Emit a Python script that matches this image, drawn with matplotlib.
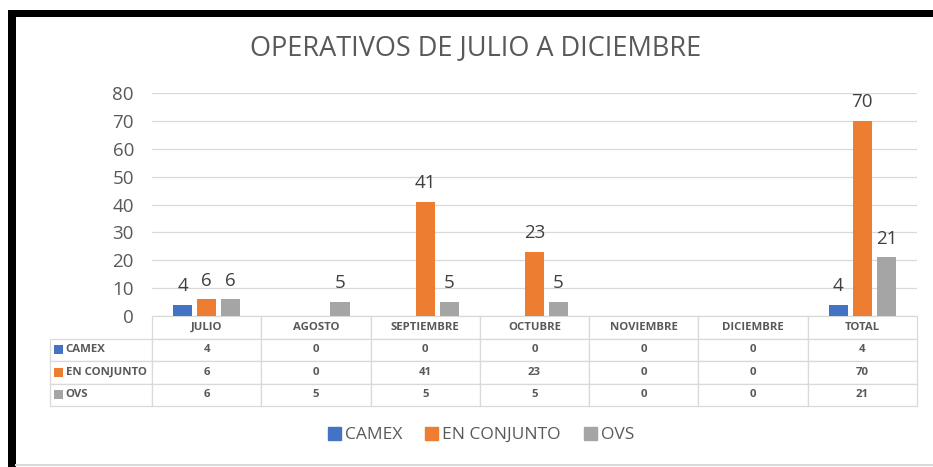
import matplotlib
matplotlib.use("Agg")
import matplotlib.pyplot as plt
from matplotlib.patches import Rectangle, Patch
import numpy as np

categories = ["JULIO", "AGOSTO", "SEPTIEMBRE", "OCTUBRE", "NOVIEMBRE", "DICIEMBRE", "TOTAL"]
series_names = ["CAMEX", "EN CONJUNTO", "OVS"]
camex = [4, 0, 0, 0, 0, 0, 4]
en_conjunto = [6, 0, 41, 23, 0, 0, 70]
ovs = [6, 5, 5, 5, 0, 0, 21]
colors = ["#4472C4", "#ED7D31", "#A5A5A5"]
yticks = [0, 10, 20, 30, 40, 50, 60, 70, 80]
title = "OPERATIVOS DE JULIO A DICIEMBRE"

W, H = 933, 467
fig = plt.figure(figsize=(W / 100, H / 100), dpi=100)
fig.patch.set_facecolor("white")

def fx(px):
    return px / W

def fy(py):
    return 1 - py / H

# frame
fig.add_artist(Rectangle((fx(8), fy(17)), fx(933) - fx(8), fy(10) - fy(17),
                         transform=fig.transFigure, color="black", lw=0))
fig.add_artist(Rectangle((fx(8), fy(467)), fx(16) - fx(8), fy(10) - fy(467),
                         transform=fig.transFigure, color="black", lw=0))
fig.add_artist(plt.Line2D([fx(16), 1], [fy(464.5), fy(464.5)], transform=fig.transFigure,
                          color="#d9d9d9", lw=1.5))

ax_l, ax_r, ax_t, ax_b = 152, 917, 93, 316
ax = fig.add_axes([fx(ax_l), fy(ax_b), fx(ax_r) - fx(ax_l), fy(ax_t) - fy(ax_b)])
ax.set_facecolor("none")

x = np.arange(len(categories))
width = 0.175
step = 0.22
data = [camex, en_conjunto, ovs]
for i, (vals, c, name) in enumerate(zip(data, colors, series_names)):
    bars = ax.bar(x + (i - 1) * step, vals, width, color=c, label=name, zorder=3)
    ax.bar_label(bars, labels=[str(v) if v else "" for v in vals], padding=7,
                 fontsize=13.5, color="#404040", family="Open Sans")

ax.set_xlim(-0.5, len(categories) - 0.5)
ax.set_ylim(0, 80)
ax.set_yticks(yticks)
ax.set_xticks([])
ax.yaxis.grid(True, color="#d9d9d9", lw=0.9, zorder=0)
for s in ax.spines.values():
    s.set_visible(False)
ax.tick_params(axis="y", length=0, pad=13, labelsize=13.5, labelcolor="#595959")
for lab in ax.get_yticklabels():
    lab.set_family("Open Sans")

# data table
rows_text = [[name] + [str(v) for v in vals] for name, vals in zip(series_names, data)]
tab_left, tab_bottom = 50, 406
axw = ax_r - ax_l
axh = ax_b - ax_t
bbox = [(tab_left - ax_l) / axw, (ax_b - tab_bottom) / axh,
        (ax_r - tab_left) / axw, (tab_bottom - ax_b) / axh]
colw = [(ax_l - tab_left)] + [axw / len(categories)] * len(categories)
tbl = ax.table(cellText=rows_text, colLabels=[""] + categories, colWidths=colw,
               bbox=bbox, cellLoc="center")
tbl.auto_set_font_size(False)
for (r, c), cell in tbl.get_celld().items():
    cell.set_edgecolor("#d9d9d9")
    cell.set_linewidth(0.9)
    t = cell.get_text()
    t.set_fontsize(8.2)
    t.set_color("#595959")
    t.set_fontweight("bold")
    t.set_family("Open Sans")
    if r == 0 and c == 0:
        cell.visible_edges = ""
    if c == 0 and r > 0:
        t.set_horizontalalignment("left")
        cell.PAD = 0.155

# color squares in row label cells
row_h = (tab_bottom - 338) / 3
for i, c in enumerate(colors):
    cy = 338 + row_h * (i + 0.5)
    fig.add_artist(Rectangle((fx(54), fy(cy + 4.5)), fx(9), 9 / H,
                             transform=fig.transFigure, color=c, lw=0))

# title
fig.text(fx(476), fy(48), title, ha="center", va="center", fontsize=19.5,
         color="#595959", family="Open Sans")

# legend
handles = [Patch(color=c, label=n) for c, n in zip(colors, series_names)]
leg = fig.legend(handles=handles, loc="center", bbox_to_anchor=(fx(481), fy(435)), ncol=3,
                 frameon=False, handlelength=0.75, handleheight=0.75,
                 handletextpad=0.25, columnspacing=1.3, prop={"family": "Open Sans", "size": 12.5})
for t in leg.get_texts():
    t.set_color("#595959")

fig.savefig("out.png", dpi=100)
